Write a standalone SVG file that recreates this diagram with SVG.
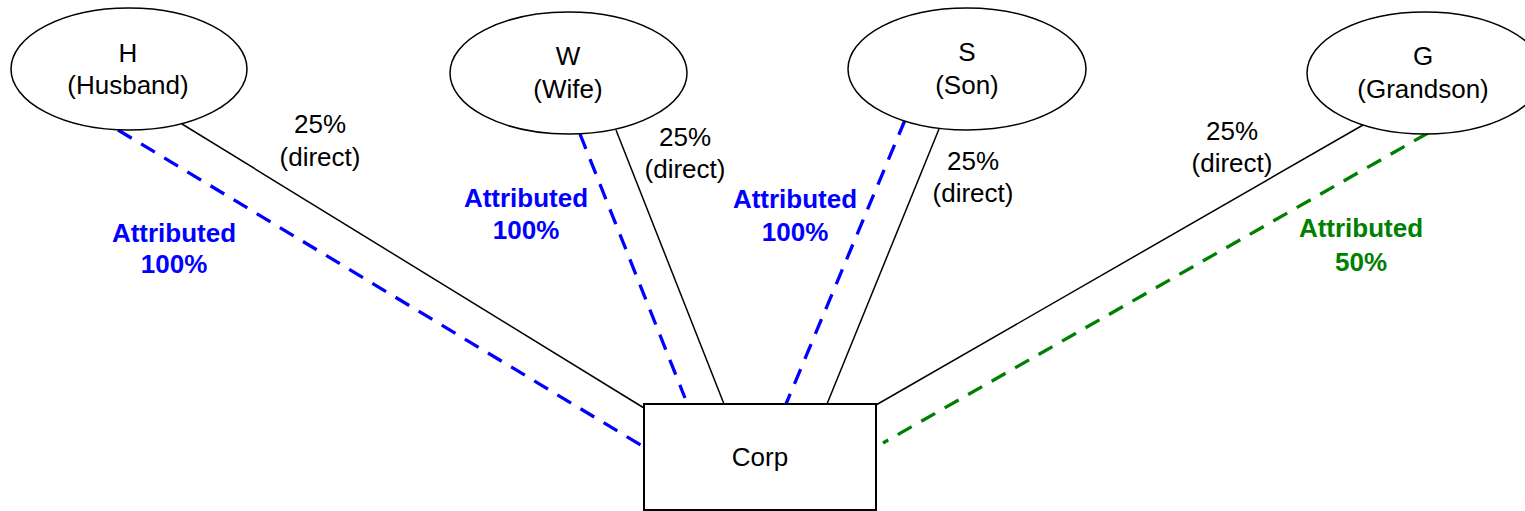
<svg xmlns="http://www.w3.org/2000/svg" width="1525" height="511" viewBox="0 0 1525 511">
<style>
.node{fill:#fff;stroke:#000;stroke-width:1.5}
.box{fill:#fff;stroke:#000;stroke-width:2}
.t{font-family:"Liberation Sans",Arial,sans-serif;font-size:26px;fill:#000;text-anchor:middle}
.b{font-family:"Liberation Sans",Arial,sans-serif;font-size:26px;font-weight:bold;text-anchor:middle}
.blue{fill:#0000ff}
.green{fill:#008000}
.solid{stroke:#000;stroke-width:1.5;fill:none}
.dblue{stroke:#0000ff;stroke-width:3.3;stroke-dasharray:16 11;fill:none}
.dgreen{stroke:#008000;stroke-width:3.3;stroke-dasharray:16 11;fill:none}
</style>
<rect width="1525" height="511" fill="#fff"/>
<g id="connectors">
<line class="solid" x1="182" y1="124" x2="644" y2="408"/>
<line class="dblue" x1="118" y1="130" x2="644" y2="447"/>
<line class="dblue" x1="580" y1="134" x2="685" y2="398"/>
<line class="solid" x1="616" y1="130" x2="724" y2="404"/>
<line class="dblue" x1="905" y1="120" x2="786" y2="404"/>
<line class="solid" x1="939" y1="129" x2="827" y2="404"/>
<line class="solid" x1="1363" y1="125" x2="876" y2="405"/>
<line class="dgreen" x1="1428" y1="133" x2="883" y2="443"/>
</g>
<g id="labels">
<text class="t" x="320" y="133">25%</text>
<text class="t" x="320" y="166">(direct)</text>
<text class="t" x="685" y="146">25%</text>
<text class="t" x="685" y="178">(direct)</text>
<text class="t" x="973" y="170">25%</text>
<text class="t" x="973" y="202">(direct)</text>
<text class="t" x="1232" y="140">25%</text>
<text class="t" x="1232" y="172">(direct)</text>
<text class="b blue" x="174" y="242">Attributed</text>
<text class="b blue" x="174" y="273">100%</text>
<text class="b blue" x="526" y="207">Attributed</text>
<text class="b blue" x="526" y="239">100%</text>
<text class="b blue" x="795" y="208">Attributed</text>
<text class="b blue" x="795" y="241">100%</text>
<text class="b green" x="1361" y="237">Attributed</text>
<text class="b green" x="1361" y="271">50%</text>
</g>
<g id="node-H">
<ellipse class="node" cx="129" cy="69" rx="118" ry="61"/>
<text class="t" x="128" y="62">H</text>
<text class="t" x="128" y="94">(Husband)</text>
</g>
<g id="node-W">
<ellipse class="node" cx="568.5" cy="73" rx="118.5" ry="61"/>
<text class="t" x="568" y="65">W</text>
<text class="t" x="568" y="98">(Wife)</text>
</g>
<g id="node-S">
<ellipse class="node" cx="967" cy="69" rx="119" ry="61"/>
<text class="t" x="967" y="61">S</text>
<text class="t" x="967" y="94">(Son)</text>
</g>
<g id="node-G">
<ellipse class="node" cx="1425" cy="73" rx="118" ry="61"/>
<text class="t" x="1423" y="65">G</text>
<text class="t" x="1423" y="98">(Grandson)</text>
</g>
<g id="node-Corp">
<rect class="box" x="644" y="404" width="232" height="106"/>
<text class="t" x="760" y="466">Corp</text>
</g>
</svg>
